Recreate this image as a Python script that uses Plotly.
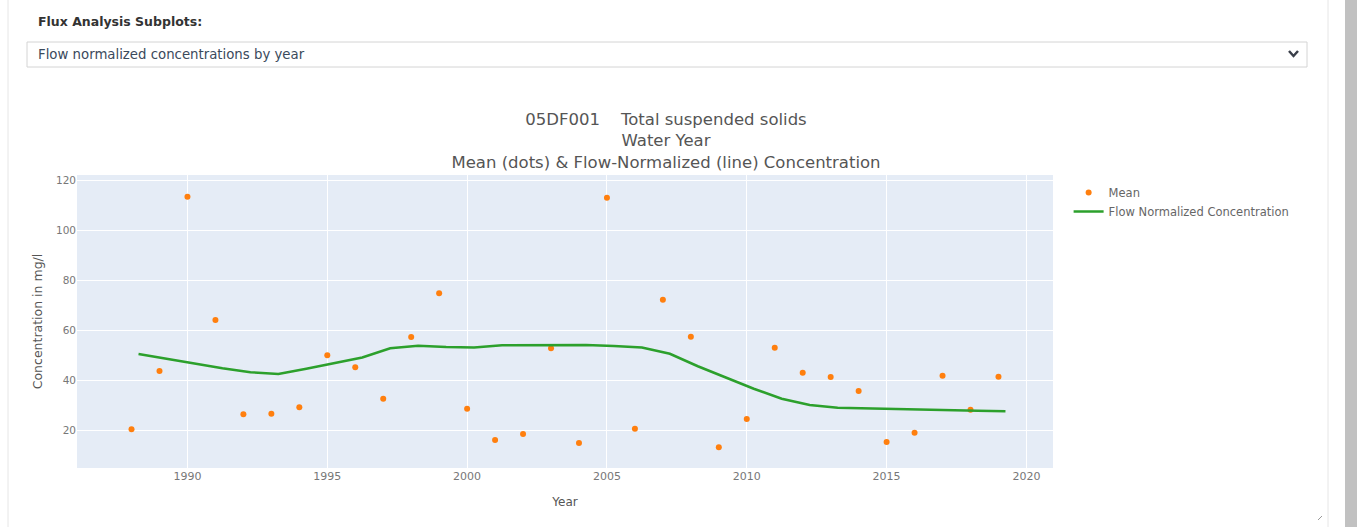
import plotly.graph_objects as go

# ---- data ----
years = [1988, 1989, 1990, 1991, 1992, 1993, 1994, 1995, 1996, 1997, 1998, 1999,
         2000, 2001, 2002, 2003, 2004, 2005, 2006, 2007, 2008, 2009, 2010, 2011,
         2012, 2013, 2014, 2015, 2016, 2017, 2018, 2019]
mean_conc = [20.3, 43.6, 113.3, 64.0, 26.3, 26.5, 29.1, 49.9, 45.1, 32.5, 57.2, 74.7,
             28.5, 16.0, 18.4, 52.7, 14.8, 112.9, 20.5, 72.1, 57.3, 13.1, 24.4, 52.9,
             42.9, 41.2, 35.6, 15.2, 18.9, 41.7, 28.1, 41.3]
fn_years = [1988.25, 1989.25, 1990.25, 1991.25, 1992.25, 1993.25, 1994.25, 1995.25,
            1996.25, 1997.25, 1998.25, 1999.25, 2000.25, 2001.25, 2002.25, 2003.25,
            2004.25, 2005.25, 2006.25, 2007.25, 2008.25, 2009.25, 2010.25, 2011.25,
            2012.25, 2013.25, 2014.25, 2015.25, 2016.25, 2017.25, 2018.25, 2019.25]
fn_conc = [50.4, 48.4, 46.7, 44.7, 43.1, 42.4, 44.5, 46.9, 49.0, 52.7, 53.7, 53.2,
           53.0, 53.9, 54.0, 54.0, 54.0, 53.6, 53.0, 50.5, 45.5, 41.0, 36.5, 32.5,
           30.0, 28.9, 28.6, 28.3, 28.0, 27.8, 27.7, 27.5]

title_lines = ["05DF001    Total suspended solids", "Water Year",
               "Mean (dots) & Flow-Normalized (line) Concentration"]
header_label = "Flux Analysis Subplots:"
dropdown_value = "Flow normalized concentrations by year"

# ---- geometry ----
W, H = 1357, 527
L, R, T, B = 77, 1053, 175, 468


def px(x):
    return (x - L) / (R - L)


def py(y):
    return (B - y) / (B - T)


FONT = "DejaVu Sans"

fig = go.Figure()
fig.add_trace(go.Scatter(x=years, y=mean_conc, mode="markers", name="Mean",
                         marker=dict(color="#ff7f0e", size=6)))
fig.add_trace(go.Scatter(x=fn_years, y=fn_conc, mode="lines",
                         name="Flow Normalized Concentration",
                         line=dict(color="#2ca02c", width=2.5)))

shapes = [
    # card borders
    dict(type="line", xref="paper", yref="paper", x0=px(8), x1=px(8), y0=py(0), y1=py(H),
         line=dict(color="#e6e6e6", width=1)),
    dict(type="line", xref="paper", yref="paper", x0=px(1328), x1=px(1328), y0=py(0), y1=py(H),
         line=dict(color="#e6e6e6", width=1)),
    # scrollbar
    dict(type="rect", xref="paper", yref="paper", x0=px(1345), x1=px(1358), y0=py(0), y1=py(H),
         line=dict(width=0), fillcolor="#c1c1c1"),
    # dropdown box
    dict(type="rect", xref="paper", yref="paper", x0=px(27), x1=px(1307), y0=py(42), y1=py(67),
         line=dict(color="#d4d4d4", width=1), fillcolor="white"),
    # chevron
    dict(type="path", xref="paper", yref="paper",
         path=f"M {px(1289)} {py(51)} L {px(1293.5)} {py(56)} L {px(1298)} {py(51)}",
         line=dict(color="#3a3f4a", width=2.5)),
    # resize grip
    dict(type="line", xref="paper", yref="paper", x0=px(1318), x1=px(1322), y0=py(520), y1=py(516),
         line=dict(color="#999999", width=1)),
]

annotations = [
    dict(text=f"<b>{header_label}</b>", xref="paper", yref="paper", x=px(36), y=py(21),
         xanchor="left", yanchor="middle", showarrow=False,
         font=dict(family=FONT, size=12.5, color="#333333")),
    dict(text=dropdown_value, xref="paper", yref="paper", x=px(36), y=py(54.5),
         xanchor="left", yanchor="middle", showarrow=False,
         font=dict(family=FONT, size=13.3, color="#3b4a5c")),
]

fig.update_layout(
    width=W, height=H,
    margin=dict(l=L, r=W - R, t=T, b=H - B, pad=0),
    paper_bgcolor="white",
    plot_bgcolor="#E5ECF6",
    font=dict(family=FONT, color="#666666"),
    title=dict(text="<br>".join(title_lines), x=666 / W, xref="container",
               xanchor="center", y=1 - 125 / H, yref="container", yanchor="top",
               font=dict(family=FONT, size=16.5, color="#555555")),
    xaxis=dict(range=[1986.05, 2020.95], tickvals=[1990, 1995, 2000, 2005, 2010, 2015, 2020],
               gridcolor="white", zeroline=False, showline=False,
               tickfont=dict(size=11, color="#777777"),
               title=dict(text="Year", font=dict(size=12, color="#555555"))),
    yaxis=dict(range=[4.8, 122], tickvals=[20, 40, 60, 80, 100, 120],
               gridcolor="white", zeroline=False, showline=False,
               tickfont=dict(size=10.5, color="#777777"),
               title=dict(text="Concentration in mg/l", standoff=10,
                          font=dict(size=12.5, color="#555555"))),
    legend=dict(font=dict(size=11.5, color="#666666"), x=1.016, y=0.99,
                bgcolor="rgba(0,0,0,0)"),
    shapes=shapes,
    annotations=annotations,
    showlegend=True,
)

fig.write_html("out.html", config={"displayModeBar": False},
               post_script="document.body.style.margin='0';document.body.style.overflow='hidden';")
